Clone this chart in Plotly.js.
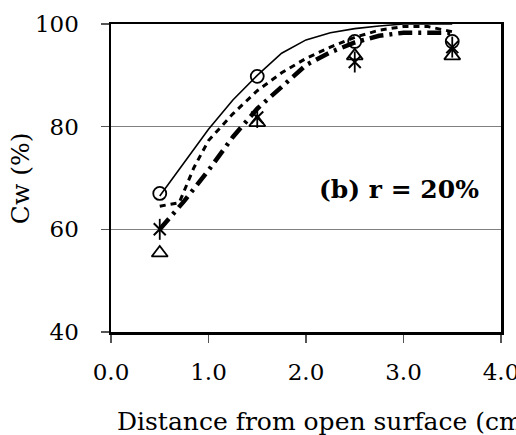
<!DOCTYPE html>
<html>
<head>
<meta charset="utf-8">
<script src="https://cdn.plot.ly/plotly-3.0.1.min.js"></script>
<style>
html,body{margin:0;padding:0;background:#fff;}
#chart{width:516px;height:435px;}
</style>
</head>
<body>
<div id="chart"></div>
<script>
// Measured points
const distance = [0.5, 1.5, 2.5, 3.5];
const circleVals = [67.0, 89.8, 96.6, 96.6];
const asteriskVals = [60.0, 81.8, 92.6, 95.5];
const triangleVals = [55.4, 80.8, 93.8, 93.8];

// Curves
const curveX = [0.5, 0.75, 1.0, 1.25, 1.5, 1.75, 2.0, 2.25, 2.5, 2.75, 3.0, 3.25, 3.5];
const solidVals = [66.5, 73.0, 79.5, 85.2, 90.0, 94.3, 96.9, 98.3, 99.1, 99.6, 100, 100, 100];
const dottedX = [0.5, 0.7, 0.85, 1.0, 1.25, 1.5, 1.75, 2.0, 2.25, 2.5, 2.75, 3.0, 3.25, 3.5];
const dottedVals = [64.5, 65.2, 72.0, 77.3, 82.5, 87.0, 90.5, 93.3, 95.5, 97.4, 98.8, 99.5, 99.5, 98.5];
const dashdotVals = [60.0, 65.5, 71.5, 78.0, 83.5, 87.8, 92.0, 94.5, 96.4, 97.7, 98.3, 98.3, 98.3];

const xTicks = [0, 1, 2, 3, 4];
const xTickText = ["0.0", "1.0", "2.0", "3.0", "4.0"];
const yTicks = [40, 60, 80, 100];

const serif = "DejaVu Serif";

const traces = [
  {x: curveX, y: solidVals, mode: "lines", line: {color: "#000", width: 1.6}, hoverinfo: "skip"},
  {x: dottedX, y: dottedVals, mode: "lines", line: {color: "#000", width: 3, dash: "6px,5px"}, hoverinfo: "skip"},
  {x: curveX, y: dashdotVals, mode: "lines", line: {color: "#000", width: 4.5, dash: "14px,6px,3px,6px"}, hoverinfo: "skip"},
  {x: distance, y: circleVals, mode: "markers", cliponaxis: false,
   marker: {symbol: "circle-open", size: 13, color: "#000", line: {color: "#000", width: 1.8}}},
  // six-armed asterisk: an x plus a vertical bar
  {x: distance, y: asteriskVals, mode: "markers", cliponaxis: false,
   marker: {symbol: "x-thin-open", size: 12, color: "#000", line: {color: "#000", width: 2}}},
  {x: distance, y: asteriskVals, mode: "markers", cliponaxis: false,
   marker: {symbol: "line-ns-open", size: 15, color: "#000", line: {color: "#000", width: 1.8}}},
  {x: distance, y: triangleVals, mode: "markers", cliponaxis: false,
   marker: {symbol: "triangle-up-open", size: 14, color: "#000", line: {color: "#000", width: 1.8}}}
];

const layout = {
  width: 516, height: 435,
  margin: {l: 111, r: 15, t: 24, b: 103, pad: 0},
  paper_bgcolor: "#fff", plot_bgcolor: "#fff",
  showlegend: false,
  font: {family: serif, size: 23, color: "#000"},
  xaxis: {
    range: [0, 4], tickvals: xTicks, ticktext: xTickText,
    showgrid: false, zeroline: false,
    showline: true, linecolor: "#000", linewidth: 2.5, mirror: true,
    ticks: "outside", ticklen: 8, tickcolor: "#555", tickwidth: 1.2,
    ticklabelstandoff: 10, ticklabeloverflow: "allow",
    tickfont: {family: serif, size: 23, color: "#000"}
  },
  yaxis: {
    range: [40, 100], tickvals: yTicks,
    showgrid: true, gridcolor: "#808080", gridwidth: 1.2, zeroline: false,
    showline: true, linecolor: "#000", linewidth: 2.5, mirror: true,
    ticks: "outside", ticklen: 8, tickcolor: "#555", tickwidth: 1.2,
    ticklabelstandoff: 17,
    tickfont: {family: serif, size: 23, color: "#000"}
  },
  annotations: [
    {text: "(b) r = 20%", x: 2.95, y: 67.8, xref: "x", yref: "y", showarrow: false,
     xanchor: "center", yanchor: "middle", font: {family: serif, size: 25, color: "#000", weight: "bold"}},
    {text: "Distance from open surface (cm)", x: 0.0103, y: -0.289, xref: "paper", yref: "paper",
     showarrow: false, xanchor: "left", yanchor: "middle", font: {family: serif, size: 25, color: "#000"}},
    {text: "Cw (%)", x: -0.233, y: 0.5, xref: "paper", yref: "paper", textangle: -90,
     showarrow: false, xanchor: "center", yanchor: "middle", font: {family: serif, size: 25, color: "#000"}}
  ]
};

Plotly.newPlot("chart", traces, layout, {displayModeBar: false, staticPlot: true});
</script>
</body>
</html>
